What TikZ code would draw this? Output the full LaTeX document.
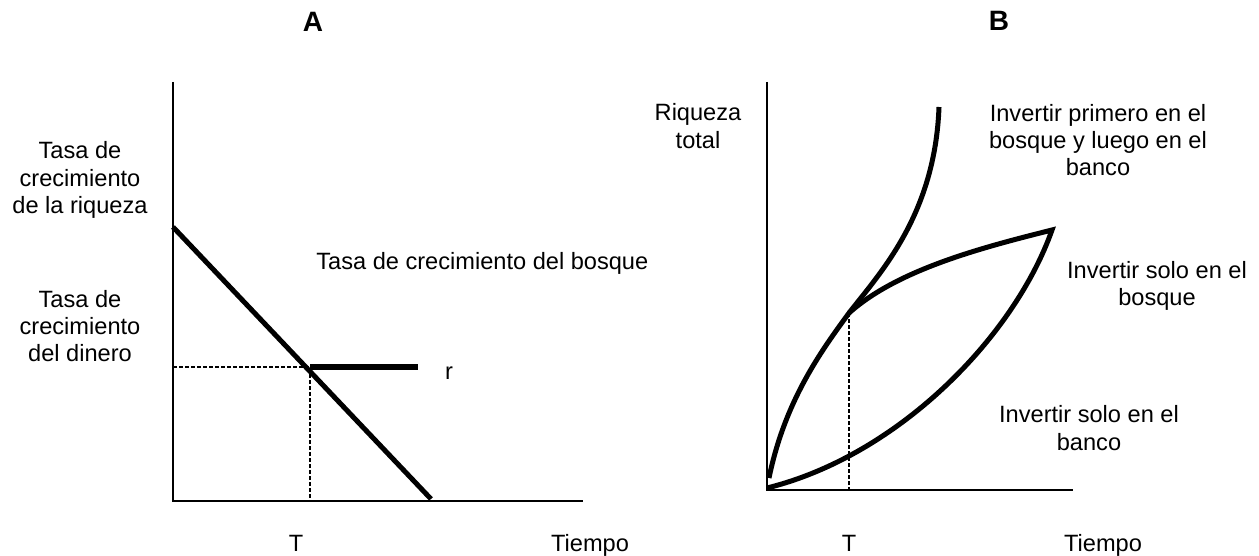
\documentclass[tikz,border=0pt]{standalone}
\usepackage{fontspec}
\setmainfont{Liberation Sans}
\usepackage{tikz}
\tikzset{
    axis/.style={line width=0.75pt},
    curve/.style={line width=2.5pt},
    flat/.style={line width=3pt},
    guide/.style={line width=0.6pt, dash pattern=on 2pt off 1pt},
    lbl/.style={align=center, inner sep=0pt, font=\fontsize{11.8}{13.7}\selectfont},
    title/.style={inner sep=0pt, font=\fontsize{14}{16}\selectfont\bfseries},
}

\begin{document}
\begin{tikzpicture}[x=0.5pt, y=-0.5pt]
    \useasboundingbox (0,0) rectangle (1259,556);

    % A
    \coordinate (a0) at (173,501);
    \coordinate (atop) at (173,82);
    \coordinate (aend) at (583,501);
    \coordinate (f0) at (173,227);
    \coordinate (f1) at (431,499);
    \coordinate (ay) at (173,367);
    \coordinate (aT) at (310,367);
    \coordinate (aTx) at (310,501);
    \coordinate (r1) at (418,367);

    \draw[axis] (atop) -- (a0) -- (aend);
    \draw[guide] (ay) -- (aT) -- (aTx);
    \draw[curve] (f0) -- (f1);
    \draw[flat] (aT) -- (r1);

    \node[title] (tA) at (313,22) {A};
    \node[lbl] (yA1) at (80,180) {Tasa de\\crecimiento\\de la riqueza};
    \node[lbl] (yA2) at (80,326) {Tasa de\\crecimiento\\del dinero};
    \node[lbl, anchor=base west] (fA) at (316,270) {Tasa de crecimiento del bosque};
    \node[lbl, anchor=base] (rA) at (449,379) {r};
    \node[lbl, anchor=base] (TA) at (296,551) {T};
    \node[lbl, anchor=base] (tiA) at (590,551) {Tiempo};

    % B
    \coordinate (b0) at (767,490);
    \coordinate (btop) at (767,82);
    \coordinate (bend) at (1073,490);
    \coordinate (bT) at (849,313);
    \coordinate (bTx) at (849,490);
    \coordinate (s0) at (769,478);
    \coordinate (k0) at (767,488);
    \coordinate (peak) at (1052,230);
    \coordinate (up) at (939,107);

    \draw[axis] (btop) -- (b0) -- (bend);
    \draw[guide] (bT) -- (bTx);
    \draw[curve] (s0) .. controls (785,400) and (822,350) .. (bT)
        .. controls (897,270) and (980,248) .. (peak)
        .. controls (1015,335) and (900,455) .. (k0);
    \draw[curve] (bT) .. controls (880,273) and (935,215) .. (up);

    \node[title] (tB) at (999,21) {B};
    \node[lbl] (yB) at (698,126) {Riqueza\\total};
    \node[lbl] (c1) at (1098,140) {Invertir primero en el\\bosque y luego en el\\banco};
    \node[lbl] (c2) at (1157,286) {Invertir solo en el\\bosque};
    \node[lbl] (c3) at (1089,428) {Invertir solo en el\\banco};
    \node[lbl, anchor=base] (TB) at (849,551) {T};
    \node[lbl, anchor=base] (tiB) at (1103,551) {Tiempo};
\end{tikzpicture}
\end{document}
